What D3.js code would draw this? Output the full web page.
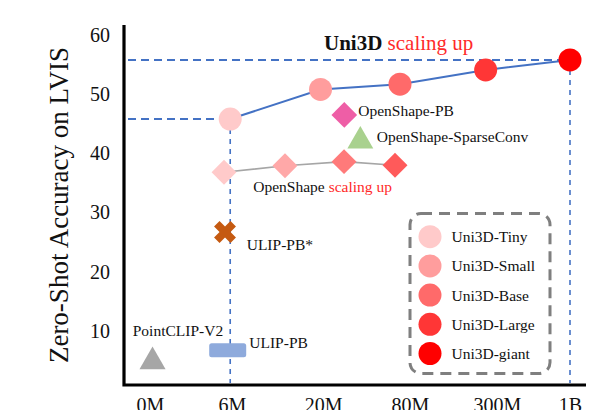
<!DOCTYPE html>
<html>
<head>
<meta charset="utf-8">
<script src="https://cdn.jsdelivr.net/npm/d3@7"></script>
<style>
  html, body { margin: 0; padding: 0; background: #fff; }
  svg { display: block; }
  text { font-family: "Liberation Serif", "Times New Roman", serif; }
</style>
</head>
<body>
<script>
// ---------- data ----------
const xTickLabels = ["0M", "6M", "20M", "80M", "300M", "1B"];
const xTickPos = [0, 0.976, 2.06, 3.095, 4.13, 5];
const yTicks = [10, 20, 30, 40, 50, 60];

const uni3dNames = ["Uni3D-Tiny", "Uni3D-Small", "Uni3D-Base", "Uni3D-Large", "Uni3D-giant"];
const uni3dX = [0.955, 2.03, 2.976, 3.996, 5];
const uni3dY = [45.8, 50.8, 51.7, 54.1, 55.8];
const uni3dColors = ["#ffcaca", "#ff9d9d", "#ff6a6a", "#ff3636", "#ff0000"];

const openshapeX = [0.881, 1.607, 2.31, 2.917];
const openshapeY = [36.8, 37.9, 38.6, 38.0];
const openshapeColors = ["#ffcaca", "#ffa8a8", "#ff7a7a", "#ff5a5a"];

const otherNames = ["OpenShape-PB", "OpenShape-SparseConv", "ULIP-PB*", "ULIP-PB", "PointCLIP-V2"];
const otherX = [2.313, 2.504, 0.893, 0.925, 0.03];
const otherY = [46.5, 42.1, 26.7, 6.74, 4.8];
const otherColors = ["#ee5ea6", "#a9d18e", "#c55a11", "#8eaadc", "#a6a6a6"];

// ---------- setup ----------
const W = 615, H = 410;
const svg = d3.select("body").append("svg").attr("width", W).attr("height", H);

const x = d3.scaleLinear().domain([0, 5]).range([150, 570]);
const y = d3.scaleLinear().domain([0.85, 61.7]).range([385, 25]);
const axisLeft = 124, axisRight = 586;

const blue = "#4472c4";

// ---------- axes ----------
const yAxis = d3.axisLeft(y).tickValues(yTicks).tickSize(0).tickPadding(14);
const gy = svg.append("g").attr("transform", `translate(${axisLeft},0)`).call(yAxis);
gy.select(".domain").remove();
gy.selectAll("text").attr("font-size", 20).attr("fill", "#111")
  .style("font-family", '"Liberation Serif", "Times New Roman", serif');

const xAxis = d3.axisBottom(x).tickValues(xTickPos)
  .tickFormat((d, i) => xTickLabels[i]).tickSize(0).tickPadding(0);
const gx = svg.append("g").attr("transform", `translate(0,${y.range()[0]})`).call(xAxis);
gx.select(".domain").remove();
gx.selectAll("text").attr("font-size", 20).attr("fill", "#111").attr("dy", null).attr("y", 27)
  .style("font-family", '"Liberation Serif", "Times New Roman", serif');

// axis lines
svg.append("path")
  .attr("d", `M${axisLeft},${y.range()[1]} V${y.range()[0]} H${axisRight}`)
  .attr("fill", "none").attr("stroke", "#000").attr("stroke-width", 3.2);

// y label
svg.append("text")
  .attr("transform", `translate(68,${205}) rotate(-90)`)
  .attr("text-anchor", "middle").attr("font-size", 27).attr("fill", "#111")
  .text("Zero-Shot Accuracy on LVIS");

// ---------- guide dashed lines ----------
const tinyX = x(uni3dX[0]), tinyY = y(uni3dY[0]);
const gX = x(uni3dX[4]), gY = y(uni3dY[4]);
const guides = svg.append("g").attr("stroke", blue).attr("fill", "none");
guides.append("line").attr("x1", axisLeft + 4).attr("x2", tinyX).attr("y1", tinyY).attr("y2", tinyY)
  .attr("stroke-width", 2).attr("stroke-dasharray", "8,5");
guides.append("line").attr("x1", axisLeft + 4).attr("x2", gX).attr("y1", gY).attr("y2", gY)
  .attr("stroke-width", 2).attr("stroke-dasharray", "8,5");
guides.append("line").attr("x1", tinyX).attr("x2", tinyX).attr("y1", tinyY).attr("y2", y.range()[0] - 2)
  .attr("stroke-width", 1.6).attr("stroke-dasharray", "5,5");
guides.append("line").attr("x1", gX).attr("x2", gX).attr("y1", gY).attr("y2", y.range()[0] - 2)
  .attr("stroke-width", 1.6).attr("stroke-dasharray", "5,5");

// ---------- OpenShape scaling line ----------
const osIdx = d3.range(openshapeX.length);
svg.append("path")
  .attr("d", d3.line().x(i => x(openshapeX[i])).y(i => y(openshapeY[i]))(osIdx))
  .attr("fill", "none").attr("stroke", "#a6a6a6").attr("stroke-width", 1.6);
svg.append("g").selectAll("path").data(osIdx).join("path")
  .attr("d", d3.symbol(d3.symbolSquare, 310)())
  .attr("transform", i => `translate(${x(openshapeX[i])},${y(openshapeY[i])}) rotate(45)`)
  .attr("fill", i => openshapeColors[i]);

// ---------- Uni3D line ----------
const uIdx = d3.range(uni3dX.length);
svg.append("path")
  .attr("d", d3.line().x(i => x(uni3dX[i])).y(i => y(uni3dY[i]))(uIdx))
  .attr("fill", "none").attr("stroke", blue).attr("stroke-width", 2);
svg.append("g").selectAll("circle").data(uIdx).join("circle")
  .attr("cx", i => x(uni3dX[i])).attr("cy", i => y(uni3dY[i])).attr("r", 11.5)
  .attr("fill", i => uni3dColors[i]);

// ---------- other methods ----------
const ox = i => x(otherX[i]), oy = i => y(otherY[i]);
// OpenShape-PB diamond
svg.append("path").attr("d", d3.symbol(d3.symbolSquare, 330)())
  .attr("transform", `translate(${ox(0)},${oy(0)}) rotate(45)`).attr("fill", otherColors[0]);
// OpenShape-SparseConv triangle
svg.append("path").attr("d", d3.symbol(d3.symbolTriangle, 290)())
  .attr("transform", `translate(${ox(1)},${oy(1)})`).attr("fill", otherColors[1]);
// ULIP-PB* cross
svg.append("path").attr("d", d3.symbol(d3.symbolCross, 300)())
  .attr("transform", `translate(${ox(2)},${oy(2)}) rotate(45)`).attr("fill", otherColors[2]);
// ULIP-PB rounded bar
svg.append("rect").attr("x", ox(3) - 18.5).attr("y", oy(3) - 7).attr("width", 37).attr("height", 14)
  .attr("rx", 2.5).attr("fill", otherColors[3]);
// PointCLIP-V2 triangle
svg.append("path").attr("d", d3.symbol(d3.symbolTriangle, 295)())
  .attr("transform", `translate(${ox(4)},${oy(4)})`).attr("fill", otherColors[4]);

// labels for other methods
const labOff = [[14, 1], [16.4, 1], [21.7, 18.4], [21.6, -2.6], [-19.8, -25.7]];
svg.append("g").selectAll("text").data(d3.range(otherNames.length)).join("text")
  .attr("x", i => ox(i) + labOff[i][0]).attr("y", i => oy(i) + labOff[i][1])
  .attr("font-size", 15.5).attr("fill", "#111").text(i => otherNames[i]);

// OpenShape scaling up label
const osLab = svg.append("text")
  .attr("x", x(openshapeX[0]) + 29.3).attr("y", y(openshapeY[0]) + 20)
  .attr("font-size", 15.5).attr("fill", "#111");
osLab.append("tspan").text("OpenShape ");
osLab.append("tspan").attr("fill", "#ff2a2a").text("scaling up");

// Uni3D scaling up title
const uLab = svg.append("text").attr("x", 324).attr("y", 50).attr("font-size", 21).attr("fill", "#111");
uLab.append("tspan").attr("font-weight", "bold").text("Uni3D ");
uLab.append("tspan").attr("fill", "#ff2a2a").text("scaling up");

// ---------- legend ----------
const lg = svg.append("g");
lg.append("rect").attr("x", 410).attr("y", 213.5).attr("width", 140).attr("height", 160)
  .attr("rx", 11).attr("fill", "none").attr("stroke", "#7f7f7f")
  .attr("stroke-width", 3).attr("stroke-dasharray", "11,7");
const rows = lg.selectAll("g.row").data(uIdx).join("g")
  .attr("transform", i => `translate(430,${236.7 + i * 29.2})`);
rows.append("circle").attr("r", 11.5).attr("fill", i => uni3dColors[i]);
rows.append("text").attr("x", 21.5).attr("y", 5.5).attr("font-size", 15.5).attr("fill", "#111")
  .text(i => uni3dNames[i]);
</script>
</body>
</html>
